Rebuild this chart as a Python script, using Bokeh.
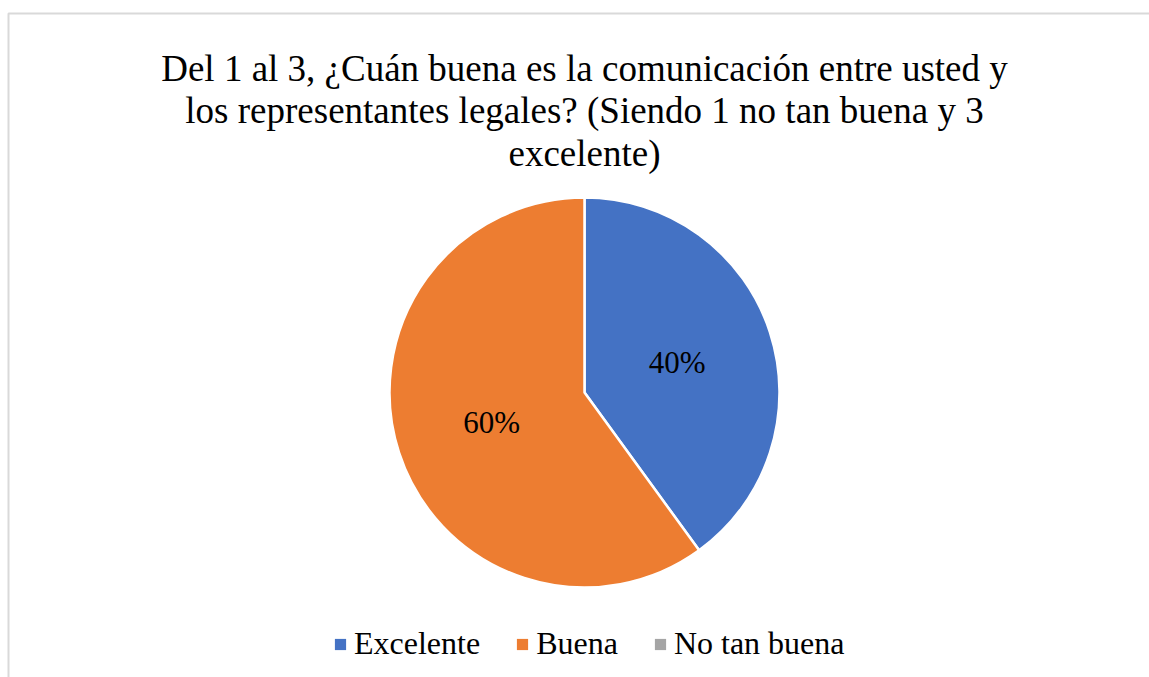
import math
from bokeh.plotting import figure
from bokeh.models import Range1d, ColumnDataSource, Legend, LegendItem
from bokeh.core.properties import value
from bokeh.embed import file_html
from bokeh.resources import INLINE

# ---- data ----
categories = ["Excelente", "Buena", "No tan buena"]
shares = [40, 60, 0]
colors = ["#4472C4", "#ED7D31", "#A5A5A5"]
title_lines = [
    "Del 1 al 3, ¿Cuán buena es la comunicación entre usted y",
    "los representantes legales? (Siendo 1 no tan buena y 3",
    "excelente)",
]

W, H = 1149, 677
FONT = "Liberation Serif"

p = figure(width=W, height=H, output_backend="svg", toolbar_location=None,
           x_range=Range1d(0, W), y_range=Range1d(0, H),
           x_axis_location=None, y_axis_location=None,
           min_border=0, min_border_left=0, min_border_right=0,
           min_border_top=0, min_border_bottom=0)
p.grid.visible = False
p.outline_line_color = None
p.background_fill_color = "white"
p.border_fill_color = "white"

# chart-area border (top and left edges visible in the cropped reference)
p.line(x=[8, 8, W + 10], y=[-10, H - 13, H - 13], line_color="#d9d9d9", line_width=2)

# ---- pie ----
cx, cy, R = 584, H - 392, 195
total = sum(shares)
starts, ends, cols, lx, ly, ltxt = [], [], [], [], [], []
cum = 0.0
for cat, v, c in zip(categories, shares, colors):
    frac = v / total
    a0 = math.pi / 2 - cum * 2 * math.pi
    a1 = math.pi / 2 - (cum + frac) * 2 * math.pi
    if v > 0:
        starts.append(a0)
        ends.append(a1)
        cols.append(c)
        mid = (a0 + a1) / 2
        lx.append(cx + 0.5 * R * math.cos(mid))
        ly.append(cy + 0.5 * R * math.sin(mid))
        ltxt.append(f"{frac * 100:.0f}%")
    cum += frac

src = ColumnDataSource(dict(start=starts, end=ends, color=cols))
p.wedge(x=cx, y=cy, radius=R, start_angle="start", end_angle="end", direction="clock",
        fill_color="color", line_color="white", line_width=2.5, source=src)

p.text(x=lx, y=ly, text=ltxt, text_font=value(FONT), text_font_size="31px",
       text_color="#000000", text_align="center", text_baseline="middle")

# ---- title ----
base_y = [H - 67.5, H - 110, H - 152.7]
p.text(x=[cx] * len(title_lines), y=base_y, text=title_lines, text_font=value(FONT),
       text_font_size="37px", text_color="#000000", text_align="center",
       text_baseline="alphabetic")

# ---- legend (swatches only; NaN coordinates so nothing is drawn in the plot) ----
nan = float("nan")
leg_src = ColumnDataSource(dict(l=[nan] * 3, r=[nan] * 3, t=[nan] * 3, b=[nan] * 3,
                                color=colors))
swatch = p.quad(left="l", right="r", top="t", bottom="b", fill_color="color",
                line_color=None, source=leg_src)
items = [LegendItem(label=value(cat), renderers=[swatch], index=i)
         for i, cat in enumerate(categories)]

legend = Legend(items=items, orientation="horizontal", location=(333, 15),
                label_text_font=FONT, label_text_font_size="32px",
                label_text_color="#000000", label_standoff=7, spacing=35,
                glyph_width=14, glyph_height=14, padding=0, margin=0,
                border_line_color=None, background_fill_alpha=0)
p.add_layout(legend, "center")

open("out.html", "w").write(file_html(p, INLINE))
